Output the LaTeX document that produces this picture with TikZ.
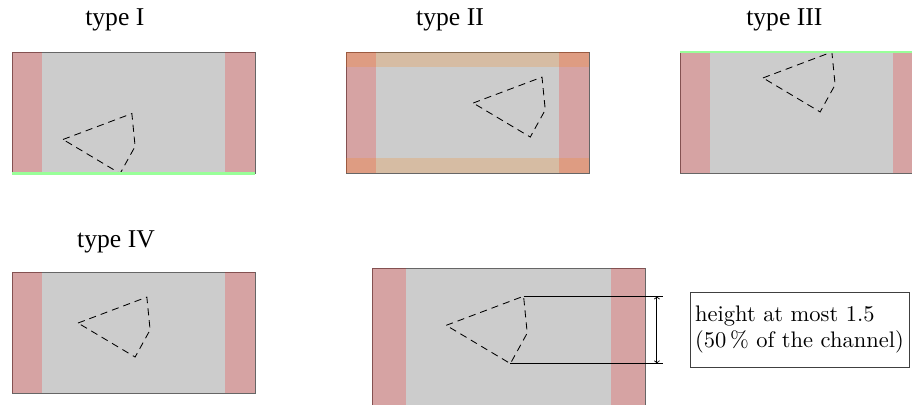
\documentclass[tikz,border=0pt]{standalone}
\usepackage{fontspec}
\newfontfamily\titlefont{Liberation Serif}
\tikzset{
  channel/.style={fill=black!20, draw=black!60, line width=0.6pt},
  redband/.style={fill=red, fill opacity=0.2},
  orangeband/.style={fill=orange, fill opacity=0.2},
  wall/.style={draw=green!40, line width=1.5pt},
  obstacle/.style={draw=black, line width=0.6pt, dash pattern=on 5pt off 3.5pt},
  title/.style={font=\titlefont\fontsize{18}{20}\selectfont, inner sep=0pt, anchor=base west},
  dimline/.style={draw=black, line width=0.6pt},
  infobox/.style={scale=1.58, draw=black!75, line width=0.6pt, minimum width=3.422cm, minimum height=1.172cm,
    align=left, inner xsep=0.05cm, inner ysep=0pt,
    font=\fontsize{10}{12}\selectfont},
}
\begin{document}
\begin{tikzpicture}
\useasboundingbox (0,0) rectangle (22.5185,-10);

% titles
\node[title] (tI)   at (2.099,-0.642) {type I};
\node[title] (tII)  at (10.27,-0.642) {type II};
\node[title] (tIII) at (18.42,-0.642) {type III};
\node[title] (tIV)  at (1.90,-6.12)   {type IV};

% type I
\begin{scope}[shift={(0.296,-1.284)}]
  \path[channel] (0,0) rectangle (6,-3);
  \fill[redband] (0,0) rectangle (0.75,-3);
  \fill[redband] (5.25,0) rectangle (6,-3);
  \begin{scope}[shift={(-0.37,-0.9)}]
    \draw[obstacle] (1.63,-1.26) coordinate (l1) -- (3.33,-0.62) coordinate (t1)
      -- (3.41,-1.43) coordinate (m1) -- (3.04,-2.10) coordinate (b1) -- cycle;
  \end{scope}
  \draw[wall] (0,-3) -- (6,-3);
\end{scope}

% type II
\begin{scope}[shift={(8.543,-1.284)}]
  \path[channel] (0,0) rectangle (6,-3);
  \fill[redband] (0,0) rectangle (0.75,-3);
  \fill[redband] (5.25,0) rectangle (6,-3);
  \fill[orangeband] (0,0) rectangle (6,-0.375);
  \fill[orangeband] (0,-2.625) rectangle (6,-3);
  \begin{scope}[shift={(1.51,0)}]
    \draw[obstacle] (1.63,-1.26) coordinate (l2) -- (3.33,-0.62) coordinate (t2)
      -- (3.41,-1.43) coordinate (m2) -- (3.04,-2.10) coordinate (b2) -- cycle;
  \end{scope}
\end{scope}

% type III
\begin{scope}[shift={(16.79,-1.284)}]
  \path[channel] (0,0) rectangle (6,-3);
  \fill[redband] (0,0) rectangle (0.75,-3);
  \fill[redband] (5.25,0) rectangle (6,-3);
  \begin{scope}[shift={(0.42,0.62)}]
    \draw[obstacle] (1.63,-1.26) coordinate (l3) -- (3.33,-0.62) coordinate (t3)
      -- (3.41,-1.43) coordinate (m3) -- (3.04,-2.10) coordinate (b3) -- cycle;
  \end{scope}
  \draw[wall] (0,0) -- (6,0);
\end{scope}

% type IV
\begin{scope}[shift={(0.296,-6.716)}]
  \path[channel] (0,0) rectangle (6,-3);
  \fill[redband] (0,0) rectangle (0.75,-3);
  \fill[redband] (5.25,0) rectangle (6,-3);
  \draw[obstacle] (1.63,-1.26) coordinate (l4) -- (3.33,-0.62) coordinate (t4)
    -- (3.41,-1.43) coordinate (m4) -- (3.04,-2.10) coordinate (b4) -- cycle;
\end{scope}

% enlarged view
\begin{scope}[shift={(9.185,-6.617)}, scale=1.124]
  \path[channel] (0,0) rectangle (6,-3.06);
  \fill[redband] (0,0) rectangle (0.75,-3.06);
  \fill[redband] (5.25,0) rectangle (6,-3.06);
  \draw[obstacle] (1.63,-1.26) coordinate (l5) -- (3.33,-0.62) coordinate (t5)
    -- (3.41,-1.43) coordinate (m5) -- (3.04,-2.10) coordinate (b5) -- cycle;
\end{scope}

\coordinate (dimx) at (16.37,0);
\coordinate (arrx) at (16.22,0);
\draw[dimline] (t5) -- (t5 -| dimx);
\draw[dimline] (b5) -- (b5 -| dimx);
\draw[dimline, <->] (t5 -| arrx) -- (b5 -| arrx);

\node[infobox] (info) at (19.74,-8.136) {height at most 1.5\\(50\,\% of the channel)};
\end{tikzpicture}
\end{document}
